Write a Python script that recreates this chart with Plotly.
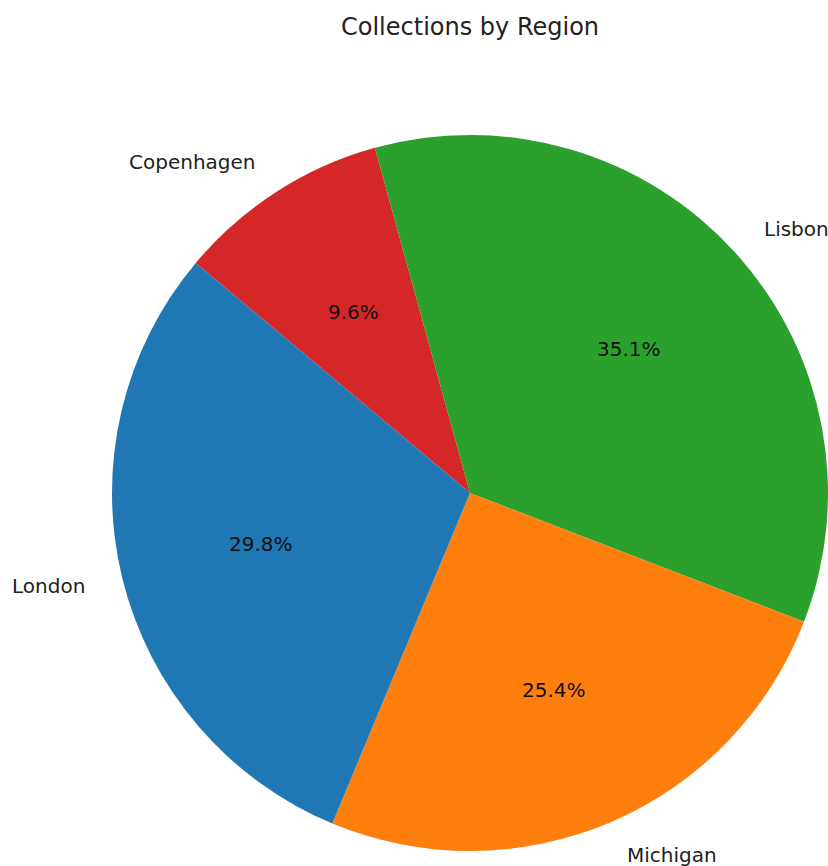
import math
import plotly.graph_objects as go

# Collection share per region (percent)
regions = ["London", "Michigan", "Lisbon", "Copenhagen"]
shares = [29.8, 25.4, 35.1, 9.6]
colors = ["#1f77b4", "#ff7f0e", "#2ca02c", "#d62728"]

W, H = 828, 866
CX, CY, R = 470, 493, 358          # pie centre and radius in pixels
START_DEG = 140                     # first wedge starts here, counterclockwise
FONT = "DejaVu Sans"

fig = go.Figure()

# Plotly lays wedges clockwise from `rotation`; feeding the series in reverse
# order gives the same counterclockwise arrangement starting at START_DEG.
fig.add_trace(go.Pie(
    labels=regions[::-1],
    values=shares[::-1],
    marker=dict(colors=colors[::-1], line=dict(width=0)),
    sort=False,
    direction="clockwise",
    rotation=90 - START_DEG,
    textinfo="none",
    hoverinfo="label+percent",
    showlegend=False,
    domain=dict(x=[(CX - R) / W, min(1.0, (CX + R) / W)],
                y=[1 - (CY + R) / H, 1 - (CY - R) / H]),
))


def to_paper(px, py):
    return px / W, 1 - py / H


total = sum(shares)
angle = START_DEG
annotations = []
for name, v in zip(regions, shares):
    span = 360.0 * v / total
    mid = math.radians(angle + span / 2)
    angle += span
    c, s = math.cos(mid), math.sin(mid)

    # region label outside the wedge
    lx, ly = to_paper(CX + 1.1 * R * c, CY - 1.1 * R * s)
    annotations.append(dict(
        x=lx, y=ly, xref="paper", yref="paper", text=name, showarrow=False,
        xanchor="left" if c > 0 else "right", yanchor="middle",
        font=dict(family=FONT, size=20, color="#222222"),
    ))

    # percentage inside the wedge
    px, py = to_paper(CX + 0.6 * R * c, CY - 0.6 * R * s)
    annotations.append(dict(
        x=px, y=py, xref="paper", yref="paper",
        text=f"{100 * v / total:.1f}%", showarrow=False,
        xanchor="center", yanchor="middle",
        font=dict(family=FONT, size=20, color="#111111"),
    ))

tx, ty = to_paper(CX, 27)
annotations.append(dict(
    x=tx, y=ty, xref="paper", yref="paper", text="Collections by Region",
    showarrow=False, xanchor="center", yanchor="middle",
    font=dict(family=FONT, size=24, color="#222222"),
))

fig.update_layout(
    width=W, height=H,
    margin=dict(l=0, r=0, t=0, b=0),
    paper_bgcolor="white",
    plot_bgcolor="white",
    annotations=annotations,
)

fig.write_html("out.html")
